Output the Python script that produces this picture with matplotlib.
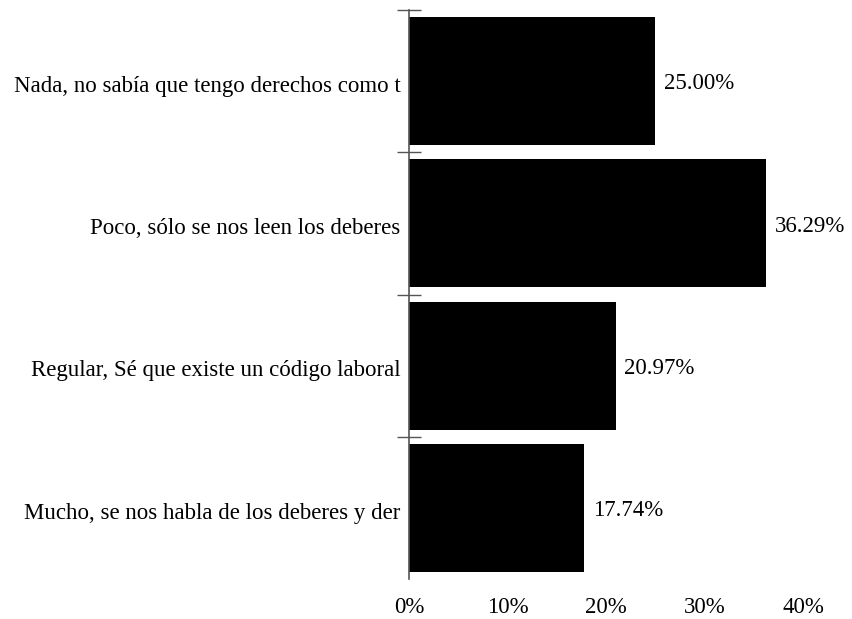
import numpy as np
import matplotlib.pyplot as plt

# Categories (top to bottom) and percentages
categories = ['Nada, no sabía que tengo derechos como t',
              'Poco, sólo se nos leen los deberes',
              'Regular, Sé que existe un código laboral',
              'Mucho, se nos habla de los deberes y der']
values = [25.00, 36.29, 20.97, 17.74]
xticks = [0, 10, 20, 30, 40]
xtick_labels = ['0%', '10%', '20%', '30%', '40%']

plt.rcParams['font.family'] = ['Liberation Serif', 'DejaVu Serif']
fs = 16.5

fig = plt.figure(figsize=(8.53, 6.19), dpi=100)
ax = fig.add_axes([409 / 853, 1 - 579 / 619, (803 - 409) / 853, (579 - 10) / 619])

pos = np.arange(len(categories))
ax.barh(pos, values, height=0.9, color='black')

for p, v in zip(pos, values):
    ax.text(v + 0.9, p + 0.02, f'{v:.2f}%', va='center', ha='left', fontsize=fs)

ax.set_xlim(0, 40)
ax.set_ylim(len(categories) - 0.5, -0.5)

ax.set_xticks(xticks)
ax.set_xticklabels(xtick_labels, fontsize=fs)
ax.tick_params(axis='x', length=0, pad=13)

ax.set_yticks(pos + 0.02)
ax.set_yticklabels(categories, fontsize=fs)
ax.tick_params(axis='y', which='major', length=0, pad=6)
ax.set_yticks(pos - 0.5, minor=True)
ax.tick_params(axis='y', which='minor', direction='inout', length=17,
               width=1.0, color='#555555')

for s in ['top', 'right', 'bottom']:
    ax.spines[s].set_visible(False)
ax.spines['left'].set_color('#555555')
ax.spines['left'].set_linewidth(1.2)

fig.savefig('out.png', dpi=100)
